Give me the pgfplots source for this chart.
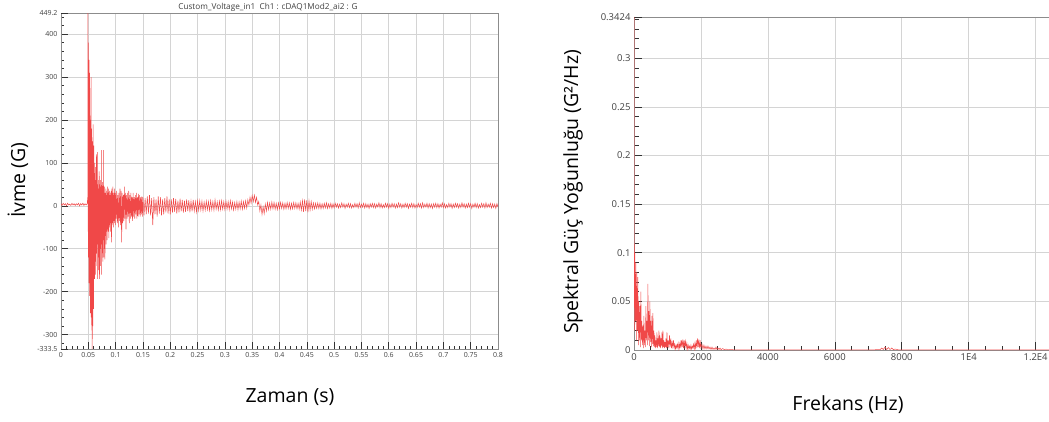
\documentclass[border=0pt]{standalone}
\usepackage{fontspec}
\setmainfont{Open Sans}
\usepackage{pgfplots}
\pgfplotsset{compat=1.18}
\definecolor{sig}{HTML}{F04848}
\definecolor{gridc}{HTML}{D4D4D4}
\definecolor{framec}{HTML}{8C8C8C}

\begin{document}
\begin{tikzpicture}[x=1pt,y=1pt]
\useasboundingbox (0,0) rectangle (1049,421);
\pgfplotsset{
  every axis/.append style={
    scale only axis, anchor=south west,
    tick align=inside, xtick pos=bottom, ytick pos=left,
    grid=major, grid style={gridc, line width=0.6pt},
    axis line style={framec, line width=0.8pt},
    major tick length=7pt, minor tick length=3pt,
    every tick/.style={black!80, line width=0.6pt},
    tick label style={font=\fontsize{7}{9}\selectfont, text=black!75},
    scaled x ticks=false, scaled y ticks=false,
    /pgf/number format/assume math mode=true,
  }
}

% time signal
\begin{axis}[at={(61pt,72pt)}, width=437pt, height=336pt,
  xmin=0, xmax=0.8, ymin=-333.5, ymax=449.2,
  xtick={0,0.05,0.1,0.15,0.2,0.25,0.3,0.35,0.4,0.45,0.5,0.55,0.6,0.65,0.7,0.75,0.8},
  xticklabels={0,0.05,0.1,0.15,0.2,0.25,0.3,0.35,0.4,0.45,0.5,0.55,0.6,0.65,0.7,0.75,0.8},
  minor x tick num=4,
  ytick={-300,-200,-100,0,100,200,300,400},
  yticklabels={-300,-200,-100,0,100,200,300,400},
  minor ytick={-320,-280,-260,-240,-220,-180,-160,-140,-120,-80,-60,-40,-20,20,40,60,80,120,140,160,180,220,240,260,280,320,340,360,380,420,440},
  extra y ticks={-333.5,449.2}, extra y tick labels={-333.5,449.2},
  extra y tick style={grid=none},
]
\addplot[sig, line width=0.5pt, no markers] coordinates {
(0,5) (0.002,1) (0.004,6) (0.006,2) (0.008,5) (0.010,0) (0.012,6) (0.014,2) (0.016,4) (0.018,1)
(0.020,6) (0.022,2) (0.024,5) (0.026,1) (0.028,5) (0.030,2) (0.032,6) (0.034,0) (0.036,5) (0.038,2)
(0.040,6) (0.042,1) (0.044,5) (0.046,2) (0.048,5)
(0.0490,20) (0.0493,449.2) (0.0496,-60) (0.0500,380) (0.0503,-120) (0.0506,250) (0.0510,-180)
(0.0513,340) (0.0516,-90) (0.0520,230) (0.0523,-210) (0.0526,310) (0.0530,-150) (0.0533,210)
(0.0536,-250) (0.0540,200) (0.0543,-200) (0.0546,190) (0.0550,-260) (0.0553,300) (0.0556,-180)
(0.0560,180) (0.0563,-290) (0.0566,120) (0.0570,-333.5) (0.0573,150) (0.0576,-310) (0.0580,100)
(0.0583,-280) (0.0586,190) (0.0590,-200) (0.0593,60) (0.0596,-240) (0.0600,140) (0.0603,-170)
(0.0606,80) (0.0610,-150) (0.0613,100) (0.0616,-170) (0.0620,70) (0.0625,-130) (0.0630,90)
(0.0635,-160) (0.0640,60) (0.0645,-110) (0.0650,120) (0.0655,-140) (0.0660,50) (0.0665,-170)
(0.0670,125) (0.0675,-90) (0.0680,60) (0.0685,-150) (0.0690,40) (0.0695,-120) (0.0700,80)
(0.0705,-170) (0.0710,50) (0.0715,-100) (0.0720,60) (0.0725,-140) (0.0730,45) (0.0735,-90)
(0.0740,130) (0.0745,-160) (0.0750,40) (0.0755,-110) (0.0760,55) (0.0765,-130) (0.0770,35)
(0.0775,-80) (0.0780,130) (0.0785,-120) (0.0790,30) (0.0795,-100) (0.0800,45) (0.0805,-125)
(0.0810,30) (0.0815,-70) (0.0820,40) (0.0825,-90) (0.0830,25) (0.0835,-60) (0.0840,35)
(0.0845,-80) (0.0850,45) (0.0855,-55) (0.0860,30) (0.0865,-60) (0.0870,40) (0.0875,-75)
(0.0880,25) (0.0885,-50) (0.0890,35) (0.0895,-45) (0.0900,30) (0.0905,-60) (0.0910,25)
(0.0915,-40) (0.0920,35) (0.0925,-85) (0.0930,40) (0.0935,-45) (0.0940,30) (0.0945,-40)
(0.0950,45) (0.0955,-35) (0.0960,25) (0.0965,-50) (0.0970,30) (0.0975,-40) (0.0980,40)
(0.0985,-35) (0.0990,25) (0.0995,-45) (0.1000,30)
(0.101,-30) (0.102,35) (0.103,-40) (0.104,25) (0.105,-50) (0.106,30) (0.107,-35) (0.108,40)
(0.109,-45) (0.110,35) (0.111,-85) (0.112,30) (0.113,-40) (0.114,25) (0.115,-35) (0.116,45)
(0.117,-30) (0.118,30) (0.119,-55) (0.120,25) (0.121,-30) (0.122,30) (0.123,-25) (0.124,35)
(0.125,-40) (0.126,25) (0.127,-30) (0.128,30) (0.129,-25) (0.130,20) (0.131,-35) (0.132,30)
(0.133,-25) (0.134,20) (0.135,-30) (0.136,25) (0.137,-20) (0.138,30) (0.139,-30) (0.140,20)
(0.141,-25) (0.142,28) (0.143,-20) (0.144,25) (0.145,-25) (0.146,20) (0.147,-20) (0.148,22)
(0.149,-25) (0.150,20)
(0.152,-22) (0.154,18) (0.156,-20) (0.158,22) (0.160,-18) (0.162,25) (0.164,-22) (0.166,18)
(0.168,-45) (0.170,20) (0.172,-20) (0.174,15) (0.176,-25) (0.178,22) (0.180,-18) (0.182,20)
(0.184,-22) (0.186,15) (0.188,-20) (0.190,18) (0.192,-15) (0.194,22) (0.196,-18) (0.198,16)
(0.200,-20) (0.202,15) (0.204,-16) (0.206,18) (0.208,-14) (0.210,16) (0.212,-18) (0.214,12)
(0.216,-15) (0.218,17) (0.220,-13) (0.222,14) (0.224,-16) (0.226,12) (0.228,-14) (0.230,15)
(0.232,-12) (0.234,13) (0.236,-15) (0.238,11) (0.240,-13) (0.242,14) (0.244,-12) (0.246,10)
(0.248,-14) (0.250,12) (0.252,-11) (0.254,12) (0.256,-10) (0.258,11) (0.260,-12) (0.262,9)
(0.264,-10) (0.266,11) (0.268,-9) (0.270,10) (0.272,-11) (0.274,12) (0.276,-9) (0.278,10)
(0.280,-10) (0.282,14) (0.284,-8) (0.286,9) (0.288,-10) (0.290,11) (0.292,-9) (0.294,12)
(0.296,-8) (0.298,10) (0.300,-9) (0.302,11) (0.304,-8) (0.306,10) (0.308,-9) (0.310,12)
(0.312,-7) (0.314,9) (0.316,-10) (0.318,8) (0.320,-8) (0.322,10) (0.324,-9) (0.326,9)
(0.328,-7) (0.330,11) (0.332,-8) (0.334,10) (0.336,-6) (0.338,12) (0.340,-5) (0.342,14)
(0.344,2) (0.346,20) (0.348,6) (0.350,24) (0.352,10) (0.354,25) (0.356,8) (0.358,20)
(0.360,2) (0.362,10) (0.364,-12) (0.366,2) (0.368,-20) (0.370,-2) (0.372,-18) (0.374,4)
(0.376,-12) (0.378,8) (0.380,-9) (0.382,7) (0.384,-8) (0.386,9) (0.388,-7) (0.390,8)
(0.392,-8) (0.394,6) (0.396,-9) (0.398,7) (0.400,-7) (0.402,8) (0.404,-6) (0.406,7)
(0.408,-8) (0.410,6) (0.412,-7) (0.414,8) (0.416,-6) (0.418,7) (0.420,-8) (0.422,6)
(0.424,-7) (0.426,8) (0.428,-6) (0.430,7) (0.432,-7) (0.434,6) (0.436,-8) (0.438,9)
(0.440,-10) (0.442,12) (0.444,-14) (0.446,15) (0.448,-12) (0.450,13) (0.452,-15) (0.454,12)
(0.456,-10) (0.458,10) (0.460,-8) (0.462,7) (0.464,-7) (0.466,6) (0.468,-6) (0.470,7)
(0.472,-6) (0.474,6) (0.476,-7) (0.478,5) (0.480,-6) (0.482,6) (0.484,-5) (0.486,7)
(0.488,-6) (0.490,5) (0.492,-5) (0.494,6) (0.496,-6) (0.498,5) (0.500,-5)
(0.502,6) (0.504,-3) (0.506,5) (0.508,-5) (0.510,4) (0.512,-4) (0.514,7) (0.516,-3)
(0.518,5) (0.520,-6) (0.522,4) (0.524,-3) (0.526,6) (0.528,-4) (0.530,5) (0.532,-5)
(0.534,3) (0.536,-4) (0.538,6) (0.540,-3) (0.542,5) (0.544,-5) (0.546,7) (0.548,-4)
(0.550,4) (0.552,-3) (0.554,6) (0.556,-5) (0.558,5) (0.560,-4) (0.562,4) (0.564,-6)
(0.566,5) (0.568,-3) (0.570,6) (0.572,-4) (0.574,5) (0.576,-5) (0.578,4) (0.580,-3)
(0.582,7) (0.584,-4) (0.586,5) (0.588,-5) (0.590,3) (0.592,-4) (0.594,6) (0.596,-3)
(0.598,5) (0.600,-6) (0.602,4) (0.604,-4) (0.606,6) (0.608,-3) (0.610,5) (0.612,-5)
(0.614,4) (0.616,-4) (0.618,7) (0.620,-3) (0.622,5) (0.624,-5) (0.626,4) (0.628,-4)
(0.630,6) (0.632,-3) (0.634,5) (0.636,-6) (0.638,4) (0.640,-3) (0.642,6) (0.644,-4)
(0.646,5) (0.648,-5) (0.650,3) (0.652,-4) (0.654,6) (0.656,-3) (0.658,5) (0.660,-5)
(0.662,7) (0.664,-4) (0.666,4) (0.668,-3) (0.670,6) (0.672,-5) (0.674,5) (0.676,-4)
(0.678,4) (0.680,-6) (0.682,5) (0.684,-3) (0.686,6) (0.688,-4) (0.690,5) (0.692,-5)
(0.694,4) (0.696,-3) (0.698,7) (0.700,-4) (0.702,5) (0.704,-5) (0.706,3) (0.708,-4)
(0.710,6) (0.712,-3) (0.714,5) (0.716,-6) (0.718,4) (0.720,-4) (0.722,6) (0.724,-3)
(0.726,5) (0.728,-5) (0.730,4) (0.732,-4) (0.734,7) (0.736,-3) (0.738,5) (0.740,-5)
(0.742,4) (0.744,-4) (0.746,6) (0.748,-3) (0.750,5) (0.752,-6) (0.754,4) (0.756,-3)
(0.758,6) (0.760,-4) (0.762,5) (0.764,-5) (0.766,3) (0.768,-4) (0.770,6) (0.772,-3)
(0.774,5) (0.776,-5) (0.778,7) (0.780,-4) (0.782,4) (0.784,-3) (0.786,6) (0.788,-5)
(0.790,5) (0.792,-4) (0.794,4) (0.796,-6) (0.798,5) (0.800,-3)
};
\end{axis}

% power spectral density
\begin{axis}[at={(634pt,71pt)}, width=415pt, height=333pt,
  xmin=0, xmax=12400, ymin=0, ymax=0.3424,
  major tick length=8pt, minor tick length=4.5pt,
  tick label style={font=\fontsize{9.5}{11}\selectfont},
  xtick={0,2000,4000,6000,8000,10000,12000},
  xticklabels={0,2000,4000,6000,8000,1E4,1.2E4},
  minor x tick num=3,
  ytick={0,0.05,0.1,0.15,0.2,0.25,0.3},
  yticklabels={0,0.05,0.1,0.15,0.2,0.25,0.3},
  minor ytick={0.01,0.02,0.03,0.04,0.06,0.07,0.08,0.09,0.11,0.12,0.13,0.14,0.16,0.17,0.18,0.19,0.21,0.22,0.23,0.24,0.26,0.27,0.28,0.29,0.31,0.32,0.33,0.34},
  extra y ticks={0.3424}, extra y tick labels={0.3424},
  extra y tick style={grid=none},
]
\addplot[sig, line width=0.5pt, no markers] coordinates {
(0,0.3424) (10,0.02) (25,0.1) (40,0.03) (55,0.09) (70,0.01) (85,0.08) (100,0.02) (115,0.075)
(130,0.005) (145,0.05) (160,0.01) (175,0.045) (190,0.003) (205,0.06) (220,0.01) (235,0.03)
(250,0.005) (265,0.025) (280,0.002) (295,0.035) (310,0.005) (325,0.02) (340,0.003) (355,0.045)
(370,0.01) (385,0.03) (400,0.005) (415,0.068) (430,0.01) (445,0.04) (460,0.004) (475,0.05)
(490,0.008) (505,0.03) (520,0.003) (535,0.035) (550,0.006) (565,0.038) (580,0.004) (595,0.02)
(610,0.003) (625,0.015) (640,0.002) (655,0.01) (670,0.003) (685,0.018) (700,0.002) (715,0.012)
(730,0.004) (745,0.02) (760,0.003) (775,0.015) (790,0.002) (805,0.012) (820,0.004) (835,0.018)
(850,0.002) (865,0.02) (880,0.003) (895,0.01) (910,0.002) (925,0.008) (940,0.003) (955,0.012)
(970,0.002) (985,0.018) (1000,0.003) (1020,0.01) (1040,0.002) (1060,0.015) (1080,0.003)
(1100,0.012) (1120,0.002) (1140,0.008) (1160,0.003) (1180,0.01) (1200,0.002) (1220,0.006)
(1240,0.001) (1260,0.005) (1280,0.002) (1300,0.006) (1320,0.001) (1340,0.007) (1360,0.002)
(1380,0.008) (1400,0.002) (1420,0.01) (1440,0.003) (1460,0.011) (1480,0.002) (1500,0.01)
(1520,0.003) (1540,0.009) (1560,0.002) (1580,0.007) (1600,0.001) (1620,0.005) (1640,0.001)
(1660,0.004) (1680,0.001) (1700,0.005) (1720,0.001) (1740,0.004) (1760,0.002) (1780,0.006)
(1800,0.001) (1820,0.007) (1840,0.002) (1860,0.01) (1880,0.002) (1900,0.012) (1920,0.003)
(1940,0.011) (1960,0.002) (1980,0.008) (2000,0.002) (2030,0.006) (2060,0.001) (2090,0.005)
(2120,0.001) (2150,0.004) (2180,0.001) (2210,0.004) (2240,0.001) (2270,0.003) (2300,0.0005)
(2330,0.003) (2360,0.0005) (2390,0.002) (2420,0.0005) (2450,0.003) (2480,0.0005) (2510,0.002)
(2540,0.0005) (2570,0.002) (2600,0.0003) (2650,0.0015) (2700,0.0003) (2750,0.001) (2800,0.0002)
(2900,0.0005) (3000,0.0001) (3500,0.0002) (4000,0.0001) (5000,0.0001) (6000,0.0001)
(7000,0.0002) (7350,0.0003) (7400,0.002) (7450,0.0005) (7500,0.003) (7550,0.0005) (7600,0.0025)
(7650,0.0005) (7700,0.002) (7750,0.0003) (7800,0.001) (7900,0.0002) (9000,0.0001) (12400,0.0001)
};
\end{axis}

\node[font=\fontsize{8.2}{10}\selectfont, text=black!75] at (268,414) {Custom\_Voltage\_in1\ \ Ch1 : cDAQ1Mod2\_ai2 : G};
\node[rotate=90, font=\fontsize{19.5}{22}\selectfont] at (18,241) {İvme (G)};
\node[font=\fontsize{19.5}{22}\selectfont] at (290,24) {Zaman (s)};
\node[rotate=90, font=\fontsize{19.5}{22}\selectfont] at (573,229) {Spektral Güç Yoğunluğu (G²/Hz)};
\node[font=\fontsize{19.5}{22}\selectfont] at (848,16) {Frekans (Hz)};
\end{tikzpicture}
\end{document}
